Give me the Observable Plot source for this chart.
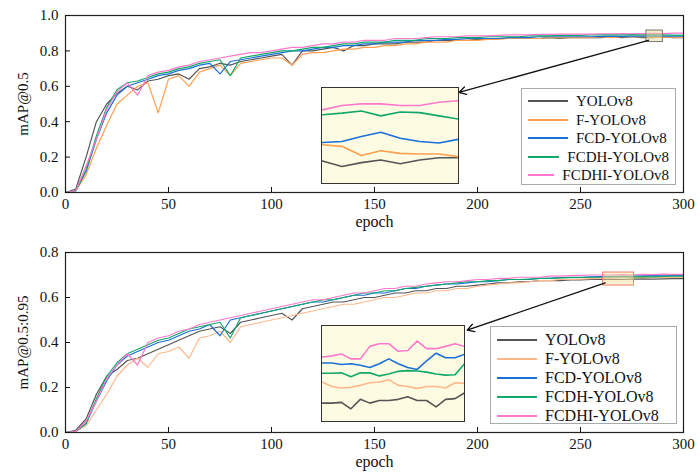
<!DOCTYPE html>
<html>
<head>
<meta charset="utf-8">
<script src="https://cdn.jsdelivr.net/npm/d3@7"></script>
<script src="https://cdn.jsdelivr.net/npm/@observablehq/plot@0.6"></script>
<style>
  body { margin: 0; background: #fff; font-family: "Liberation Serif", serif; }
  #chart { position: relative; width: 700px; height: 475px; }
  #chart svg, #chart svg text { font-family: "Liberation Serif", serif !important; }
  .panel { position: relative; width: 700px; }
  .inset { position: absolute; }
  .legend { position: absolute; background: #fff; border: 1px solid #aaa; box-sizing: border-box;
            padding: 3px 6px; color: #111; }
  .legend .row { display: flex; align-items: center; white-space: nowrap; }
  .legend .sw { width: 40px; height: 0; border-top: 2px solid; margin-right: 8px; }
</style>
</head>
<body>
<div id="chart"></div>
<script>
// ---------- Data ----------
const models = ["YOLOv8", "F-YOLOv8", "FCD-YOLOv8", "FCDH-YOLOv8", "FCDHI-YOLOv8"];
const coloursTop = ["#555555", "#ffa050", "#1a6fd8", "#12a86a", "#ff78cc"];
const coloursBot = ["#555555", "#ffb88c", "#1a6fd8", "#12a86a", "#ff78cc"];
const epochs = d3.range(0, 301, 5);

// mAP@0.5, one value per 5 epochs
const map50_yolo = [
  0, 0.02, 0.20, 0.40, 0.50, 0.56, 0.60, 0.58, 0.63, 0.64,
  0.66, 0.67, 0.64, 0.70, 0.71, 0.73, 0.72, 0.74, 0.75, 0.76,
  0.77, 0.78, 0.72, 0.80, 0.80, 0.81, 0.82, 0.80, 0.83, 0.83,
  0.84, 0.84, 0.84, 0.85, 0.85, 0.85, 0.86, 0.86, 0.86, 0.86,
  0.865, 0.865, 0.87, 0.87, 0.87, 0.87, 0.87, 0.875, 0.87, 0.875,
  0.875, 0.875, 0.875, 0.88, 0.875, 0.88, 0.875, 0.875, 0.88, 0.875,
  0.875];
const map50_f = [
  0, 0.01, 0.10, 0.25, 0.38, 0.50, 0.55, 0.60, 0.62, 0.45,
  0.64, 0.66, 0.60, 0.68, 0.70, 0.72, 0.66, 0.73, 0.74, 0.75,
  0.76, 0.76, 0.72, 0.78, 0.79, 0.79, 0.80, 0.81, 0.81, 0.82,
  0.82, 0.83, 0.83, 0.84, 0.84, 0.85, 0.85, 0.85, 0.86, 0.86,
  0.86, 0.865, 0.865, 0.87, 0.87, 0.87, 0.87, 0.875, 0.875, 0.875,
  0.875, 0.875, 0.88, 0.875, 0.88, 0.88, 0.88, 0.878, 0.878, 0.877,
  0.876];
const map50_fcd = [
  0, 0.01, 0.12, 0.30, 0.45, 0.55, 0.60, 0.62, 0.64, 0.66,
  0.67, 0.69, 0.70, 0.72, 0.73, 0.67, 0.74, 0.75, 0.76, 0.77,
  0.78, 0.79, 0.80, 0.80, 0.81, 0.82, 0.82, 0.83, 0.83, 0.84,
  0.84, 0.85, 0.85, 0.85, 0.86, 0.86, 0.86, 0.865, 0.865, 0.87,
  0.87, 0.87, 0.87, 0.875, 0.875, 0.875, 0.88, 0.88, 0.88, 0.88,
  0.88, 0.88, 0.882, 0.883, 0.882, 0.884, 0.883, 0.885, 0.883, 0.884,
  0.884];
const map50_fcdh = [
  0, 0.01, 0.13, 0.32, 0.48, 0.58, 0.62, 0.63, 0.65, 0.67,
  0.68, 0.70, 0.71, 0.73, 0.74, 0.75, 0.66, 0.76, 0.77, 0.78,
  0.79, 0.80, 0.80, 0.81, 0.82, 0.82, 0.83, 0.84, 0.84, 0.85,
  0.85, 0.85, 0.86, 0.86, 0.86, 0.87, 0.87, 0.87, 0.875, 0.875,
  0.875, 0.88, 0.88, 0.88, 0.88, 0.885, 0.885, 0.885, 0.888, 0.888,
  0.888, 0.89, 0.89, 0.89, 0.89, 0.892, 0.891, 0.892, 0.891, 0.889,
  0.888];
const map50_fcdhi = [
  0, 0.01, 0.15, 0.30, 0.47, 0.57, 0.62, 0.55, 0.66, 0.68,
  0.69, 0.71, 0.72, 0.74, 0.75, 0.76, 0.77, 0.78, 0.79, 0.79,
  0.80, 0.81, 0.82, 0.82, 0.83, 0.84, 0.84, 0.85, 0.85, 0.86,
  0.86, 0.86, 0.87, 0.87, 0.87, 0.875, 0.88, 0.88, 0.88, 0.885,
  0.885, 0.885, 0.888, 0.89, 0.89, 0.89, 0.893, 0.893, 0.895, 0.895,
  0.895, 0.895, 0.897, 0.897, 0.898, 0.897, 0.898, 0.899, 0.898, 0.9,
  0.9];

// mAP@0.5:0.95, one value per 5 epochs
const map5095_yolo = [
  0, 0.01, 0.06, 0.17, 0.25, 0.28, 0.32, 0.33, 0.35, 0.37,
  0.39, 0.41, 0.43, 0.45, 0.46, 0.47, 0.44, 0.49, 0.50, 0.51,
  0.52, 0.53, 0.50, 0.55, 0.56, 0.57, 0.58, 0.58, 0.59, 0.60,
  0.60, 0.61, 0.62, 0.62, 0.63, 0.63, 0.64, 0.64, 0.65, 0.65,
  0.655, 0.66, 0.665, 0.665, 0.67, 0.67, 0.675, 0.675, 0.675, 0.678,
  0.678, 0.68, 0.68, 0.682, 0.68, 0.682, 0.683, 0.682, 0.683, 0.684,
  0.684];
const map5095_f = [
  0, 0.005, 0.03, 0.10, 0.17, 0.25, 0.30, 0.33, 0.29, 0.35,
  0.36, 0.38, 0.33, 0.42, 0.43, 0.45, 0.40, 0.47, 0.48, 0.49,
  0.50, 0.51, 0.52, 0.53, 0.54, 0.55, 0.56, 0.57, 0.57, 0.58,
  0.59, 0.60, 0.60, 0.61, 0.62, 0.62, 0.63, 0.63, 0.64, 0.64,
  0.65, 0.655, 0.66, 0.665, 0.665, 0.67, 0.675, 0.675, 0.68, 0.68,
  0.682, 0.684, 0.685, 0.687, 0.688, 0.688, 0.689, 0.688, 0.689, 0.689,
  0.689];
const map5095_fcd = [
  0, 0.005, 0.04, 0.14, 0.23, 0.30, 0.34, 0.36, 0.38, 0.40,
  0.41, 0.43, 0.45, 0.46, 0.48, 0.43, 0.50, 0.51, 0.52, 0.53,
  0.54, 0.55, 0.56, 0.57, 0.58, 0.58, 0.59, 0.60, 0.61, 0.61,
  0.62, 0.62, 0.63, 0.64, 0.64, 0.65, 0.655, 0.66, 0.66, 0.665,
  0.67, 0.67, 0.675, 0.68, 0.68, 0.68, 0.685, 0.685, 0.688, 0.69,
  0.69, 0.692, 0.693, 0.694, 0.695, 0.695, 0.696, 0.697, 0.696, 0.697,
  0.697];
const map5095_fcdh = [
  0, 0.005, 0.04, 0.15, 0.25, 0.31, 0.35, 0.37, 0.39, 0.41,
  0.42, 0.44, 0.46, 0.47, 0.48, 0.49, 0.42, 0.51, 0.52, 0.53,
  0.54, 0.55, 0.56, 0.57, 0.58, 0.59, 0.59, 0.60, 0.61, 0.62,
  0.62, 0.63, 0.63, 0.64, 0.645, 0.65, 0.655, 0.66, 0.665, 0.67,
  0.67, 0.675, 0.675, 0.68, 0.68, 0.682, 0.685, 0.685, 0.687, 0.688,
  0.689, 0.69, 0.69, 0.691, 0.692, 0.692, 0.693, 0.692, 0.694, 0.695,
  0.695];
const map5095_fcdhi = [
  0, 0.005, 0.05, 0.14, 0.24, 0.30, 0.35, 0.30, 0.40, 0.42,
  0.43, 0.45, 0.46, 0.48, 0.49, 0.50, 0.51, 0.52, 0.53, 0.54,
  0.55, 0.56, 0.57, 0.58, 0.59, 0.59, 0.60, 0.61, 0.62, 0.62,
  0.63, 0.64, 0.64, 0.65, 0.65, 0.66, 0.665, 0.67, 0.67, 0.675,
  0.68, 0.68, 0.685, 0.685, 0.69, 0.69, 0.69, 0.695, 0.695, 0.697,
  0.698, 0.70, 0.70, 0.70, 0.702, 0.70, 0.703, 0.702, 0.704, 0.703,
  0.703];

// zoomed insets
const insetTopEpochs = d3.range(283, 291);
const insetTop_yolo  = [0.8789, 0.8779, 0.8786, 0.8791, 0.8784, 0.8791, 0.8795, 0.8795];
const insetTop_f     = [0.8819, 0.8816, 0.8799, 0.8808, 0.8803, 0.8802, 0.8802, 0.8797];
const insetTop_fcd   = [0.8823, 0.8825, 0.8834, 0.8842, 0.8831, 0.8825, 0.8822, 0.8829];
const insetTop_fcdh  = [0.8874, 0.8877, 0.8881, 0.8872, 0.8879, 0.8878, 0.8872, 0.8866];
const insetTop_fcdhi = [0.8883, 0.8891, 0.8894, 0.8894, 0.8891, 0.8891, 0.8897, 0.8900];

const insetBotEpochs = d3.range(262, 278);
const insetBot_yolo  = [0.6656, 0.6656, 0.666, 0.6626, 0.6676, 0.6656, 0.667, 0.667, 0.6676, 0.669, 0.667, 0.667, 0.6636, 0.6676, 0.668, 0.671];
const insetBot_f     = [0.6766, 0.6744, 0.6736, 0.674, 0.675, 0.6764, 0.6768, 0.678, 0.675, 0.6744, 0.6734, 0.6744, 0.6744, 0.6736, 0.6764, 0.676];
const insetBot_fcd   = [0.6868, 0.6868, 0.686, 0.6864, 0.6856, 0.6844, 0.6864, 0.689, 0.6864, 0.6844, 0.6834, 0.688, 0.692, 0.6896, 0.6896, 0.6914];
const insetBot_fcdh  = [0.6814, 0.6814, 0.6816, 0.6796, 0.6816, 0.6816, 0.680, 0.681, 0.6824, 0.6828, 0.6826, 0.682, 0.681, 0.6804, 0.6806, 0.6864];
const insetBot_fcdhi = [0.690, 0.6906, 0.6916, 0.689, 0.689, 0.6956, 0.697, 0.697, 0.693, 0.6934, 0.6984, 0.6944, 0.6944, 0.6956, 0.697, 0.6956];

// ---------- Helpers ----------
function longTable(xs, series) {
  const rows = [];
  series.forEach((vals, k) => vals.forEach((v, i) => rows.push({ epoch: xs[i], value: v, model: models[k] })));
  return rows;
}

function makePanel(cfg) {
  const panel = document.createElement("div");
  panel.className = "panel";
  panel.style.height = cfg.height + "px";
  const data = longTable(epochs, cfg.series);
  const font = "Liberation Serif";
  panel.appendChild(Plot.plot({
    width: 700, height: cfg.height,
    marginLeft: 65, marginRight: 17, marginTop: 15, marginBottom: cfg.height - 15 - cfg.plotH,
    style: { fontFamily: font, fontSize: "15px", color: "#111", background: "transparent" },
    x: { domain: [0, 300] },
    y: { domain: cfg.yDomain },
    color: { domain: models, range: cfg.colours },
    marks: [
      Plot.line(data, { x: "epoch", y: "value", stroke: "model", z: "model", strokeWidth: 1.2 }),
      Plot.rect([cfg.box], { x1: "x1", x2: "x2", y1: "y1", y2: "y2", fill: cfg.boxFill, fillOpacity: 0.5, stroke: cfg.boxStroke, strokeWidth: 1 }),
      Plot.arrow([cfg.arrow], { x1: "x1", y1: "y1", x2: "x2", y2: "y2", stroke: "#111", strokeWidth: 1.3, headLength: 9, inset: 0 }),
      Plot.frame({ stroke: "#222", strokeWidth: 1.2 }),
      Plot.axisX({ ticks: d3.range(0, 301, 50), tickSize: 0, tickPadding: 6, label: null, fontSize: 15, fontFamily: font }),
      Plot.axisX({ ticks: d3.range(0, 301, 50), tickSize: -5, tickFormat: () => "", label: null }),
      Plot.text(["epoch"], { frameAnchor: "bottom", dy: 34, fontSize: 16, fontFamily: font, fill: "#111" }),
      Plot.axisY({ ticks: cfg.yTicks, tickSize: 0, tickPadding: 7, label: cfg.yLabel, labelAnchor: "center", labelArrow: "none", labelOffset: 48, fontSize: 15, fontFamily: font }),
      Plot.axisY({ ticks: cfg.yTicks, tickSize: -5, tickFormat: () => "", label: null })
    ]
  }));

  const inset = Plot.plot({
    width: cfg.inset.w, height: cfg.inset.h,
    margin: 0, marginTop: 4, marginBottom: 4,
    style: { background: "#fdfbe2" },
    x: { domain: d3.extent(cfg.inset.xs), axis: null },
    y: { domain: cfg.inset.yDomain, axis: null },
    color: { domain: models, range: cfg.colours },
    marks: [
      Plot.line(longTable(cfg.inset.xs, cfg.inset.series), { x: "epoch", y: "value", stroke: "model", z: "model", strokeWidth: 1.6 })
    ]
  });
  inset.classList.add("inset");
  inset.style.left = cfg.inset.left + "px";
  inset.style.top = cfg.inset.top + "px";
  inset.style.outline = "1.5px solid #333";
  panel.appendChild(inset);

  const leg = document.createElement("div");
  leg.className = "legend";
  Object.assign(leg.style, { left: cfg.legend.left + "px", top: cfg.legend.top + "px", width: cfg.legend.w + "px", height: cfg.legend.h + "px", fontSize: cfg.legend.fs + "px", lineHeight: cfg.legend.lh + "px" });
  leg.innerHTML = models.map((m, i) =>
    `<div class="row"><span class="sw" style="border-color:${cfg.colours[i]}"></span>${m}</div>`).join("");
  panel.appendChild(leg);
  return panel;
}

const chart = document.getElementById("chart");
chart.appendChild(makePanel({
  height: 237, plotH: 177,
  series: [map50_yolo, map50_f, map50_fcd, map50_fcdh, map50_fcdhi],
  colours: coloursTop,
  yDomain: [0, 1], yTicks: d3.range(0, 1.01, 0.2), yLabel: "mAP@0.5",
  box: { x1: 282, x2: 290, y1: 0.85, y2: 0.915 },
  boxFill: "#e8dc9a", boxStroke: "#777",
  arrow: { x1: 283, y1: 0.86, x2: 191, y2: 0.565 },
  inset: { left: 322, top: 88, w: 136, h: 95, xs: insetTopEpochs, yDomain: [0.8755, 0.8915],
           series: [insetTop_yolo, insetTop_f, insetTop_fcd, insetTop_fcdh, insetTop_fcdhi] },
  legend: { left: 521, top: 88, w: 155, h: 97, fs: 15, lh: 18.5 }
}));
chart.appendChild(makePanel({
  height: 238, plotH: 180,
  series: [map5095_yolo, map5095_f, map5095_fcd, map5095_fcdh, map5095_fcdhi],
  colours: coloursBot,
  yDomain: [0, 0.8], yTicks: d3.range(0, 0.81, 0.2), yLabel: "mAP@0.5:0.95",
  box: { x1: 261, x2: 276, y1: 0.653, y2: 0.711 },
  boxFill: "#f7e0a0", boxStroke: "#f08070",
  arrow: { x1: 262, y1: 0.665, x2: 195, y2: 0.455 },
  inset: { left: 322, top: 89, w: 142, h: 95, xs: insetBotEpochs, yDomain: [0.658, 0.704],
           series: [insetBot_yolo, insetBot_f, insetBot_fcd, insetBot_fcdh, insetBot_fcdhi] },
  legend: { left: 490, top: 89, w: 187, h: 98, fs: 16, lh: 19 }
}));
</script>
</body>
</html>
